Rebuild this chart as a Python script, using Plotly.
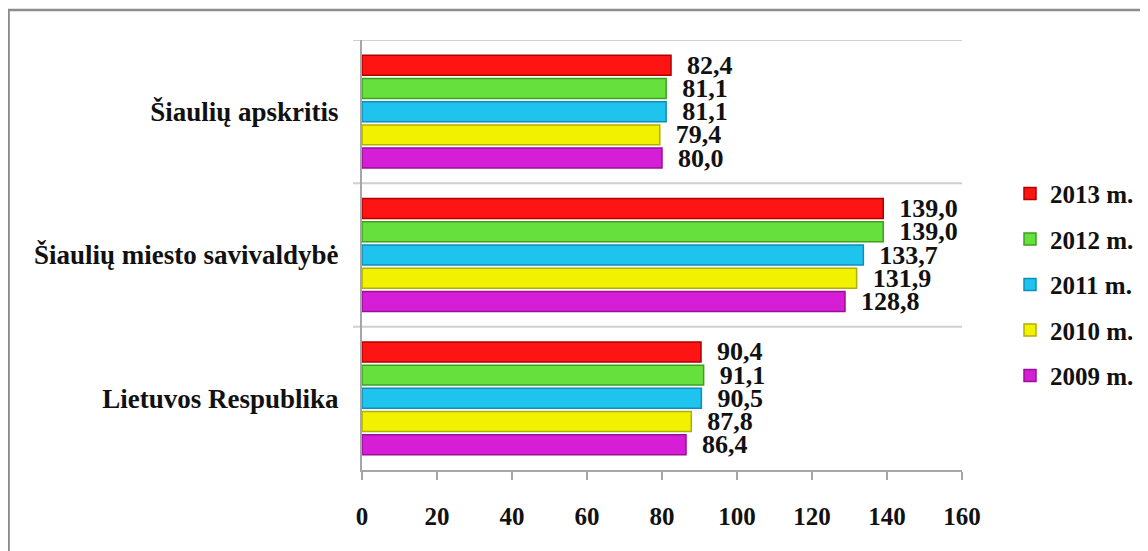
import plotly.graph_objects as go

categories = ["Lietuvos Respublika", "Šiaulių miesto savivaldybė", "Šiaulių apskritis"]
years = ["2009 m.", "2010 m.", "2011 m.", "2012 m.", "2013 m."]
values = {
    "2009 m.": [86.4, 128.8, 80.0],
    "2010 m.": [87.8, 131.9, 79.4],
    "2011 m.": [90.5, 133.7, 81.1],
    "2012 m.": [91.1, 139.0, 81.1],
    "2013 m.": [90.4, 139.0, 82.4],
}
colors = {
    "2009 m.": "#D61ED6",
    "2010 m.": "#F2F200",
    "2011 m.": "#1EC3EE",
    "2012 m.": "#66E03C",
    "2013 m.": "#FF1414",
}
edges = {
    "2009 m.": "#9A0F9A",
    "2010 m.": "#B0B000",
    "2011 m.": "#0E8FB8",
    "2012 m.": "#3FA020",
    "2013 m.": "#B00000",
}
x_ticks = [0, 20, 40, 60, 80, 100, 120, 140, 160]

FONT = "Liberation Serif"
ypos = list(range(len(categories)))

fig = go.Figure()
for i, yr in enumerate(years):
    fig.add_trace(go.Bar(
        y=ypos, x=values[yr], orientation="h", name=yr,
        legendgroup=yr, legendrank=1000 - i,
        marker=dict(color=colors[yr], line=dict(color=edges[yr], width=1.5)),
        texttemplate="\u00a0\u00a0%{x:.1f}", textposition="outside",
        constraintext="none", cliponaxis=False,
        textfont=dict(family=FONT, size=26, color="#111111", weight="bold"),
    ))

# category separators / gridlines
for yv in [0.5, 1.5, 2.5]:
    fig.add_shape(type="line", xref="paper", yref="y", x0=-0.015, x1=1, y0=yv, y1=yv,
                  line=dict(color="#D0D0D0", width=2), layer="below")

# outer frame (left and top edges)
fig.add_shape(type="path", xref="paper", yref="paper",
              path="M -0.589,-0.3 L -0.589,1.0698 L 1.35,1.0698",
              line=dict(color="#8C8C8C", width=2.5))

fig.update_layout(
    width=1148, height=551,
    margin=dict(l=354, r=194, t=32, b=89),
    paper_bgcolor="white", plot_bgcolor="white",
    barmode="group", bargap=0.19, bargroupgap=0.14,
    separators=", ",
    font=dict(family=FONT, color="#111111"),
    showlegend=True,
    legend=dict(x=1.08, y=0.431, xanchor="left", yanchor="middle",
                traceorder="grouped", tracegroupgap=10,
                font=dict(family=FONT, size=25, color="#111111", weight="bold"),
                bgcolor="rgba(0,0,0,0)"),
    xaxis=dict(range=[0, 160], tickvals=x_ticks, showgrid=False, zeroline=False,
               showline=True, linecolor="#A6A6A6", linewidth=2,
               ticks="outside", ticklen=8, tickcolor="#A6A6A6", tickwidth=1.5,
               ticklabelstandoff=15,
               tickfont=dict(family=FONT, size=25, color="#111111", weight="bold")),
    yaxis=dict(range=[-0.5, 2.5], tickvals=ypos, ticktext=categories,
               showgrid=False, zeroline=False, showline=True,
               linecolor="#A6A6A6", linewidth=2, ticks="",
               ticklabelstandoff=16,
               tickfont=dict(family=FONT, size=27, color="#111111", weight="bold")),
)

fig.write_html("out.html")
